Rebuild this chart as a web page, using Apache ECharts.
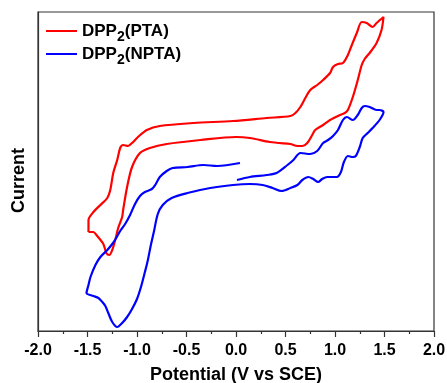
<!DOCTYPE html>
<html>
<head>
<meta charset="utf-8">
<script src="https://cdn.jsdelivr.net/npm/echarts@6/dist/echarts.min.js"></script>
<style>
html,body{margin:0;padding:0;background:#fff;}
#chart{width:447px;height:383px;}
</style>
</head>
<body>
<div id="chart"></div>
<script>
// Potential (V vs SCE) and current (arbitrary units)
const ptaPotential = [-1.49,-1.49,-1.44,-1.37,-1.30,-1.27,-1.24,-1.20,-1.17,-1.14,-1.09,-1.05,-0.99,-0.90,-0.77,-0.43,-0.03,0.31,0.55,0.60,0.65,0.70,0.75,0.82,0.88,0.95,0.98,1.03,1.08,1.13,1.17,1.22,1.27,1.32,1.38,1.42,1.49,1.47,1.42,1.35,1.30,1.27,1.23,1.18,1.13,1.10,1.05,0.95,0.88,0.80,0.77,0.72,0.67,0.62,0.55,0.44,0.34,0.14,0.00,-0.36,-0.70,-0.87,-0.97,-1.05,-1.10,-1.14,-1.15,-1.19,-1.22,-1.25,-1.28,-1.31,-1.34,-1.41,-1.44,-1.49];
const ptaCurrent   = [99,111,119,126,133,141,158,171,183,186,185,188,194,201,205,208,210,213,215,218,224,233,241,246,251,258,264,267,268,276,286,298,309,308,304,308,314,301,288,278,272,266,251,234,221,218,216,211,206,201,196,188,185,185,187,188,189,193,194,191,187,183,178,164,144,121,114,103,91,81,76,78,87,96,99,99];

const nptaPotential = [0.04,-0.19,-0.33,-0.49,-0.64,-0.70,-0.77,-0.81,-0.85,-0.92,-0.97,-1.02,-1.07,-1.12,-1.17,-1.21,-1.25,-1.30,-1.37,-1.42,-1.47,-1.49,-1.51,-1.44,-1.39,-1.35,-1.32,-1.29,-1.25,-1.20,-1.15,-1.10,-1.05,-1.00,-0.96,-0.92,-0.89,-0.86,-0.83,-0.79,-0.74,-0.65,-0.49,-0.26,-0.03,0.14,0.27,0.37,0.46,0.55,0.62,0.67,0.73,0.78,0.83,0.87,0.92,1.02,1.06,1.09,1.13,1.18,1.21,1.25,1.28,1.33,1.38,1.45,1.49,1.45,1.42,1.35,1.30,1.27,1.23,1.18,1.12,1.08,1.03,0.98,0.93,0.88,0.82,0.75,0.65,0.58,0.52,0.41,0.31,0.14,0.01];
const nptaCurrent   = [168,165,166,164,163,160,154,147,142,139,135,127,116,107,100,93,87,81,74,66,54,46,38,35,33,29,25,18,9,4,8,14,22,32,44,59,71,86,99,117,126,133,138,143,146,147,146,143,140,143,146,151,154,152,149,152,154,154,159,169,175,174,175,184,193,198,203,211,219,221,221,224,225,223,216,211,214,211,201,195,191,188,180,177,178,171,166,158,156,154,151];

const xTicks = [-2.0,-1.5,-1.0,-0.5,0.0,0.5,1.0,1.5,2.0];
const seriesNames = ['PTA','NPTA'];

function pairs(xs, ys){ return xs.map((x,i)=>[x, ys[i]]); }

const chart = echarts.init(document.getElementById('chart'), null, {renderer:'canvas'});
const font = '"Liberation Sans", Arial, sans-serif';
chart.setOption({
  animation:false,
  backgroundColor:'#fff',
  grid:{left:38, right:13, top:12, bottom:52, containLabel:false, outerBoundsMode:'none',
        show:true, borderColor:'#333', borderWidth:1.2, backgroundColor:'transparent'},
  legend:{
    orient:'vertical', left:45, top:18, padding:0, itemWidth:31, itemHeight:14, itemGap:-3,
    itemStyle:{opacity:0},
    data:seriesNames,
    formatter: n => '{a|DPP}{s|2}{a|(' + n + ')}',
    textStyle:{
      fontFamily:font, fontWeight:'bold', color:'#000',
      rich:{
        a:{fontFamily:font, fontWeight:'bold', fontSize:17, color:'#000', lineHeight:22},
        s:{fontFamily:font, fontWeight:'bold', fontSize:14, color:'#000', lineHeight:10, padding:[12,0,0,0]}
      }
    }
  },
  xAxis:{
    type:'value', min:-2, max:2, interval:0.5,
    name:'Potential (V vs SCE)', nameLocation:'middle', nameGap:35,
    nameTextStyle:{fontFamily:font, fontWeight:'bold', fontSize:18, color:'#000'},
    axisLine:{show:true, onZero:false, lineStyle:{color:'#333', width:1.2}},
    axisTick:{show:true, inside:false, length:6, lineStyle:{color:'#333', width:1.2}},
    minorTick:{show:true, splitNumber:2, length:3, lineStyle:{color:'#333', width:1.2}},
    splitLine:{show:false},
    axisLabel:{margin:12, fontFamily:font, fontWeight:'bold', fontSize:16, color:'#000',
      formatter: v => { const t = xTicks.find(k => Math.abs(k - v) < 1e-6); return t === undefined ? '' : t.toFixed(1); }}
  },
  yAxis:{
    type:'value', min:0, max:319,
    name:'Current', nameLocation:'middle', nameGap:10,
    nameTextStyle:{fontFamily:font, fontWeight:'bold', fontSize:18, color:'#000', padding:[0,18,0,0]},
    axisLine:{show:true, onZero:false, lineStyle:{color:'#333', width:1.2}},
    axisTick:{show:false}, axisLabel:{show:false}, splitLine:{show:false}
  },
  series:[
    {name:'PTA', type:'line', data:pairs(ptaPotential, ptaCurrent), symbol:'none', smooth:0.3,
     color:'#ff0000', lineStyle:{color:'#ff0000', width:2.2}},
    {name:'NPTA', type:'line', data:pairs(nptaPotential, nptaCurrent), symbol:'none', smooth:0.3,
     color:'#0000ff', lineStyle:{color:'#0000ff', width:2.2}}
  ]
});
</script>
</body>
</html>
